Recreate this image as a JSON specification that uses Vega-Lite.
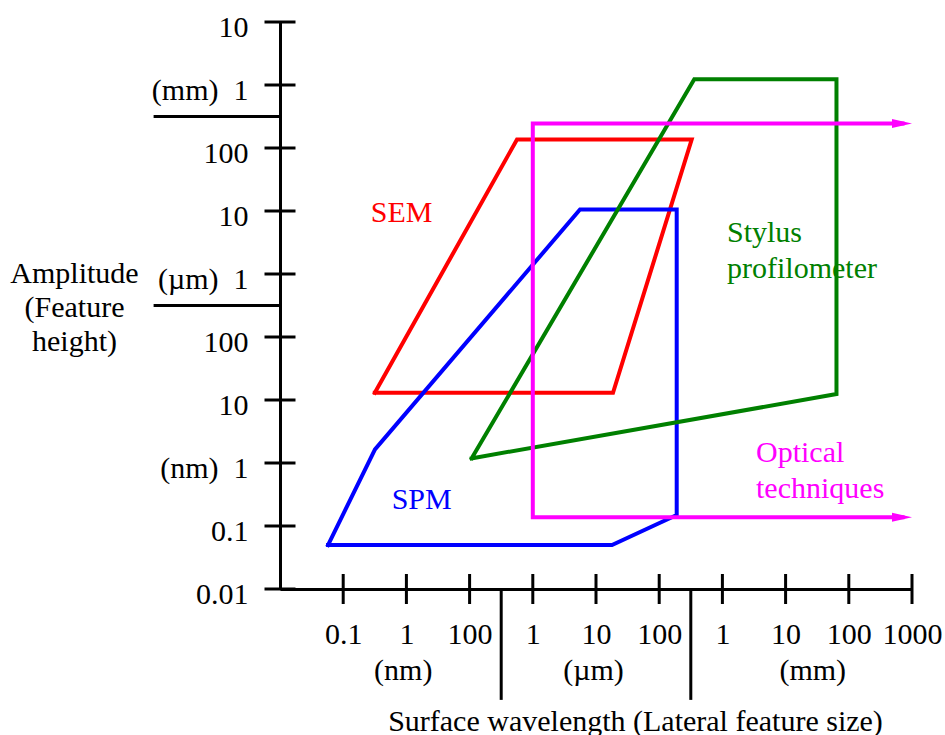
{
  "$schema": "https://vega.github.io/schema/vega-lite/v6.json",
  "width": 632,
  "height": 567,
  "autosize": {"type": "none"},
  "padding": {"left": 280, "top": 22, "right": 33, "bottom": 146},
  "background": "white",
  "config": {
    "view": {"stroke": null},
    "font": "Liberation Serif",
    "axis": {
      "domainColor": "black", "domainWidth": 3,
      "ticks": false, "grid": false,
      "labelFont": "Liberation Serif", "labelFontSize": 30, "labelColor": "black",
      "labelOverlap": false, "labelFlush": false, "labelBound": false,
      "titleFont": "Liberation Serif", "titleFontSize": 30, "titleFontWeight": "normal", "titleColor": "black"
    }
  },
  "datasets": {
    "shapes": [
      {"shape": "SEM", "i": 0, "u": 0.5, "v": 3.114},
      {"shape": "SEM", "i": 1, "u": 2.75, "v": 7.135},
      {"shape": "SEM", "i": 2, "u": 5.514, "v": 7.135},
      {"shape": "SEM", "i": 3, "u": 4.269, "v": 3.114},
      {"shape": "SEM", "i": 4, "u": 0.5, "v": 3.114},
      {"shape": "SPM", "i": 0, "u": -0.24, "v": 0.698},
      {"shape": "SPM", "i": 1, "u": 0.503, "v": 2.216},
      {"shape": "SPM", "i": 2, "u": 3.747, "v": 6.024},
      {"shape": "SPM", "i": 3, "u": 5.277, "v": 6.024},
      {"shape": "SPM", "i": 4, "u": 5.277, "v": 1.174},
      {"shape": "SPM", "i": 5, "u": 4.253, "v": 0.698},
      {"shape": "SPM", "i": 6, "u": -0.24, "v": 0.698},
      {"shape": "Stylus", "i": 0, "u": 2.033, "v": 2.074},
      {"shape": "Stylus", "i": 1, "u": 5.555, "v": 8.091},
      {"shape": "Stylus", "i": 2, "u": 7.805, "v": 8.091},
      {"shape": "Stylus", "i": 3, "u": 7.805, "v": 3.094},
      {"shape": "Stylus", "i": 4, "u": 2.033, "v": 2.074},
      {"shape": "Optical", "i": 0, "u": 8.85, "v": 7.388},
      {"shape": "Optical", "i": 1, "u": 3.0, "v": 7.388},
      {"shape": "Optical", "i": 2, "u": 3.0, "v": 1.138},
      {"shape": "Optical", "i": 3, "u": 8.85, "v": 1.138}
    ],
    "arrows": [
      {"shape": "Optical", "u": 9, "v": 7.388},
      {"shape": "Optical", "u": 9, "v": 1.138}
    ],
    "labels": [
      {"shape": "SEM", "text": "SEM", "u": 0.435, "v": 5.827},
      {"shape": "SPM", "text": "SPM", "u": 0.767, "v": 1.264},
      {"shape": "Stylus", "text": "Stylus\nprofilometer", "u": 6.073, "v": 5.51},
      {"shape": "Optical", "text": "Optical\ntechniques", "u": 6.532, "v": 2.02}
    ],
    "units": [
      {"text": "(nm)", "u": 0.95, "v": -1.444},
      {"text": "(µm)", "u": 3.96, "v": -1.444},
      {"text": "(mm)", "u": 7.43, "v": -1.444}
    ],
    "yticks": [
      {"u": -1, "v": 0}, {"u": -1, "v": 1}, {"u": -1, "v": 2}, {"u": -1, "v": 3}, {"u": -1, "v": 4},
      {"u": -1, "v": 5}, {"u": -1, "v": 6}, {"u": -1, "v": 7}, {"u": -1, "v": 8}, {"u": -1, "v": 9}
    ],
    "xticks": [
      {"u": 0, "v": 0}, {"u": 1, "v": 0}, {"u": 2, "v": 0}, {"u": 3, "v": 0}, {"u": 4, "v": 0},
      {"u": 5, "v": 0}, {"u": 6, "v": 0}, {"u": 7, "v": 0}, {"u": 8, "v": 0}, {"u": 9, "v": 0}
    ],
    "dividers": [
      {"u": -3.0, "u2": -1, "v": 7.5, "v2": 7.5},
      {"u": -3.0, "u2": -1, "v": 4.5, "v2": 4.5},
      {"u": 2.5, "u2": 2.5, "v": 0, "v2": -1.76},
      {"u": 5.5, "u2": 5.5, "v": 0, "v2": -1.76}
    ]
  },
  "encoding": {
    "x": {
      "field": "u", "type": "quantitative",
      "scale": {"domain": [-1, 9], "nice": false, "zero": false},
      "axis": {
        "values": [0, 1, 2, 3, 4, 5, 6, 7, 8, 9],
        "labelExpr": "['0.1','1','100','1','10','100','1','10','100','1000'][datum.value]",
        "labelBaseline": "alphabetic", "labelPadding": 54, "labelAlign": "center",
        "title": "Surface wavelength (Lateral feature size)",
        "titleX": 355, "titleY": 141, "titleAlign": "center", "titleBaseline": "alphabetic"
      }
    },
    "y": {
      "field": "v", "type": "quantitative",
      "scale": {"domain": [0, 9], "nice": false, "zero": false},
      "axis": {
        "values": [0, 1, 2, 3, 4, 5, 6, 7, 8, 9],
        "labelExpr": "['0.01','0.1','(nm)\u00a0\u00a01','10','100','(µm)\u00a0\u00a01','10','100','(mm)\u00a0\u00a01','10'][datum.value]",
        "labelBaseline": "alphabetic", "labelAlign": "right", "labelPadding": 32, "labelOffset": 14.5,
        "title": ["Amplitude", "(Feature", "height)"],
        "titleAngle": 0, "titleX": -206, "titleY": 260, "titleAlign": "center", "titleBaseline": "alphabetic",
        "titleLineHeight": 34
      }
    }
  },
  "layer": [
    {
      "data": {"name": "shapes"},
      "mark": {"type": "line", "strokeWidth": 4, "strokeJoin": "miter", "strokeCap": "square"},
      "encoding": {
        "color": {
          "field": "shape", "type": "nominal", "legend": null,
          "scale": {"domain": ["SEM", "SPM", "Stylus", "Optical"], "range": ["#ff0000", "#0000ff", "#008000", "#ff00ff"]}
        },
        "order": {"field": "i", "type": "quantitative"}
      }
    },
    {
      "data": {"name": "yticks"},
      "mark": {"type": "tick", "orient": "horizontal", "size": 31, "thickness": 3, "color": "black", "opacity": 1}
    },
    {
      "data": {"name": "xticks"},
      "mark": {"type": "tick", "orient": "vertical", "size": 30, "thickness": 3, "color": "black", "opacity": 1}
    },
    {
      "data": {"name": "dividers"},
      "mark": {"type": "rule", "strokeWidth": 3, "color": "black"},
      "encoding": {
        "x2": {"field": "u2"},
        "y2": {"field": "v2"}
      }
    },
    {
      "data": {"name": "arrows"},
      "mark": {"type": "point", "shape": "M0,0L-2,-0.45L-2,0.45Z", "filled": true, "size": 400, "opacity": 1, "strokeWidth": 0, "color": "#ff00ff"}
    },
    {
      "data": {"name": "labels"},
      "mark": {"type": "text", "align": "left", "baseline": "alphabetic", "fontSize": 30, "lineBreak": "\n", "lineHeight": 36, "font": "Liberation Serif"},
      "encoding": {
        "text": {"field": "text"},
        "color": {
          "field": "shape", "type": "nominal", "legend": null,
          "scale": {"domain": ["SEM", "SPM", "Stylus", "Optical"], "range": ["#ff0000", "#0000ff", "#008000", "#ff00ff"]}
        }
      }
    },
    {
      "data": {"name": "units"},
      "mark": {"type": "text", "align": "center", "baseline": "alphabetic", "fontSize": 30, "color": "black", "font": "Liberation Serif"},
      "encoding": {
        "text": {"field": "text"}
      }
    }
  ]
}
